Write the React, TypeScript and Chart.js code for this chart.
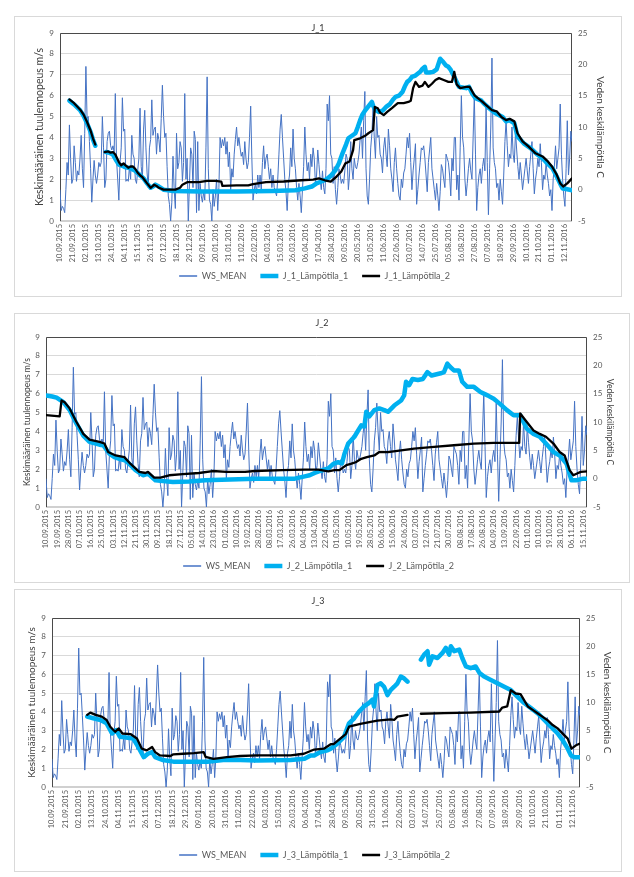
import { useEffect, useRef } from "react";
import { Chart, registerables } from "chart.js";

Chart.register(...registerables);

const FONT = "Lato, 'Liberation Sans', sans-serif";

// Daily mean wind speed (m/s), day 0 = 10.09.2015
const WS_MEAN: number[] = [
  1.5, 0.5, 0.7, 0.6, 0.4, 1.5, 2.8, 2.2, 4.6, 3.0,
  1.8, 2.0, 3.6, 2.8, 1.9, 2.4, 2.2, 3.0, 4.1, 2.5,
  1.6, 4.2, 7.4, 4.9, 5.0, 3.8, 2.5, 0.9, 2.0, 2.9,
  2.2, 1.8, 2.2, 2.8, 2.6, 2.8, 5.0, 3.5, 1.6, 2.0,
  3.8, 4.2, 4.3, 3.6, 3.4, 3.6, 3.3, 6.1, 3.0, 2.0,
  1.0, 2.8, 3.5, 5.9, 4.3, 4.4, 1.9, 2.0, 1.9, 2.6,
  2.0, 4.1, 3.2, 3.0, 2.0, 1.8, 2.4, 3.0, 5.4, 2.6,
  2.0, 4.4, 5.3, 3.5, 2.3, 1.6, 3.5, 3.9, 5.8, 4.1,
  4.4, 4.5, 3.2, 4.2, 3.9, 3.3, 4.9, 6.5, 5.0, 4.0,
  4.2, 2.6, 1.2, 0.8, 0.0, 0.9, 3.1, 1.5, 0.6, 4.2,
  2.5, 2.8, 3.8, 3.5, 1.9, 2.8, 6.1, 2.0, 3.0, 0.0,
  1.8, 3.5, 3.2, 1.6, 4.3, 3.9, 0.4, 3.8, 0.5, 1.8,
  1.2, 0.9, 1.4, 1.0, 3.5, 6.9, 2.5, 1.0, 0.8, 0.0,
  1.5, 0.7, 1.2, 2.0, 0.5, 1.6, 4.0, 3.5, 3.9, 3.6,
  4.0, 3.2, 3.8, 2.6, 3.3, 1.5, 2.5, 2.1, 3.2, 3.9,
  4.5, 3.6, 4.0, 3.5, 3.1, 3.3, 2.7, 3.8, 3.0, 2.5,
  2.8, 4.0, 5.5, 3.0, 1.0, 1.5, 1.8, 1.3, 2.2, 1.6,
  2.2, 1.5, 2.8, 3.6, 2.5, 3.0, 3.2, 2.6, 2.0, 2.5,
  1.6, 2.2, 1.6, 1.4, 1.2, 2.0, 3.2, 4.4, 5.1, 4.0,
  3.0, 2.0, 1.4, 0.5, 1.8, 2.2, 3.5, 2.6, 4.4, 3.0,
  2.5, 1.6, 1.0, 1.8, 1.2, 0.4, 1.5, 2.6, 4.5, 3.2,
  2.4, 2.8, 2.0, 3.2, 2.6, 3.5, 3.0, 1.8, 2.2, 3.4,
  2.7, 2.0, 1.5, 2.4, 1.6, 1.3, 2.5, 5.6, 4.8, 6.0,
  3.2, 3.0, 1.8, 2.6, 1.5, 0.8, 1.6, 2.5, 2.2, 1.8,
  2.0, 1.8, 2.4, 3.2, 3.0, 1.5, 2.2, 3.8, 2.5, 2.0,
  3.0, 2.6, 2.5, 2.8, 3.2, 3.9, 4.5, 3.0, 4.8, 6.2,
  2.5, 1.2, 0.8, 2.0, 3.5, 4.2, 5.5, 4.0, 3.0, 5.0,
  4.0, 4.1, 3.2, 3.0, 2.3, 3.5, 4.0, 3.2, 2.6, 4.4,
  3.6, 2.5, 2.0, 1.4, 2.8, 3.5, 2.5, 1.8, 1.2, 1.0,
  2.0, 1.6, 2.3, 2.5, 3.2, 4.0, 3.5, 4.2, 2.8, 1.5,
  2.4, 3.0, 3.7, 0.8, 1.5, 2.2, 2.8, 3.5, 3.4, 3.6,
  3.0, 2.2, 1.4, 2.8, 3.4, 4.0, 2.5, 2.0, 1.5, 1.0,
  1.8, 1.2, 0.5, 1.4, 2.7, 2.5, 2.0, 1.6, 3.2, 3.0,
  2.8, 2.2, 1.2, 3.0, 2.4, 4.0, 4.0, 1.5, 2.2, 1.0,
  3.5, 6.0, 4.0, 3.5, 2.0, 1.2, 1.8, 2.5, 3.0, 2.4,
  2.0, 4.0, 6.0, 3.2, 0.5, 1.6, 2.2, 2.5, 1.8, 2.6,
  3.0, 2.4, 5.5, 2.8, 0.3, 2.5, 4.5, 7.8, 3.5, 2.8,
  2.5, 1.6, 1.8, 1.0, 2.0, 1.4, 0.8, 2.2, 3.8, 4.8,
  3.6, 2.6, 3.2, 3.0, 4.5, 3.2, 2.8, 4.3, 3.4, 2.6,
  2.0, 2.8, 2.2, 1.5, 2.0, 2.5, 3.0, 2.4, 1.8, 2.6,
  3.2, 3.8, 2.5, 1.3, 2.0, 2.4, 3.0, 2.6, 3.7, 2.8,
  1.5, 2.2, 2.0, 2.8, 2.2, 1.8, 1.2, 1.5, 0.5, 2.0,
  2.6, 3.6, 2.5, 3.0, 3.5, 5.6, 3.2, 2.0, 1.2, 0.7,
  2.5, 4.8, 2.2, 3.0, 4.3, 3.8,
];

const TICKS_11: string[] = [
  "10.09.2015", "21.09.2015", "02.10.2015", "13.10.2015", "24.10.2015", "04.11.2015",
  "15.11.2015", "26.11.2015", "07.12.2015", "18.12.2015", "29.12.2015", "09.01.2016",
  "20.01.2016", "31.01.2016", "11.02.2016", "22.02.2016", "04.03.2016", "15.03.2016",
  "26.03.2016", "06.04.2016", "17.04.2016", "28.04.2016", "09.05.2016", "20.05.2016",
  "31.05.2016", "11.06.2016", "22.06.2016", "03.07.2016", "14.07.2016", "25.07.2016",
  "05.08.2016", "16.08.2016", "27.08.2016", "07.09.2016", "18.09.2016", "29.09.2016",
  "10.10.2016", "21.10.2016", "01.11.2016", "12.11.2016",
];

const TICKS_9: string[] = [
  "10.09.2015", "19.09.2015", "28.09.2015", "07.10.2015", "16.10.2015", "25.10.2015",
  "03.11.2015", "12.11.2015", "21.11.2015", "30.11.2015", "09.12.2015", "18.12.2015",
  "27.12.2015", "05.01.2016", "14.01.2016", "23.01.2016", "01.02.2016", "10.02.2016",
  "19.02.2016", "28.02.2016", "08.03.2016", "17.03.2016", "26.03.2016", "04.04.2016",
  "13.04.2016", "22.04.2016", "01.05.2016", "10.05.2016", "19.05.2016", "28.05.2016",
  "06.06.2016", "15.06.2016", "24.06.2016", "03.07.2016", "12.07.2016", "21.07.2016",
  "30.07.2016", "08.08.2016", "17.08.2016", "26.08.2016", "04.09.2016", "13.09.2016",
  "22.09.2016", "01.10.2016", "10.10.2016", "19.10.2016", "28.10.2016", "06.11.2016",
  "15.11.2016",
];

type Pt = [number, number | null];

// Water temperature series: [day index, °C]; null = gap
const J1_T1: Pt[] = [
  [8, 14.2], [12, 13.6], [17, 12.7], [20, 11.8], [23, 10.6], [26, 9.2], [28, 8.0], [30, 7.0], [30.5, null],
  [39, 6.0], [42, 5.9], [45, 5.6], [48, 4.6], [50, 4.0], [53, 3.8], [55, 3.6], [58, 3.5], [61, 3.3],
  [64, 3.0], [68, 2.3], [71, 1.8], [74, 1.0], [77, 0.3], [79, 0.5], [81, 0.8], [84, 0.5], [88, 0.0],
  [92, -0.1], [96, -0.2], [120, -0.3], [150, -0.3], [180, -0.2], [200, -0.1], [208, 0.2], [214, 0.5],
  [218, 1.0], [222, 1.3], [226, 1.6], [230, 2.2], [234, 3.1], [237, 4.2], [240, 5.8], [243, 7.2],
  [245, 8.2], [248, 8.6], [251, 9.0], [253, 10.0], [255, 11.1], [257, 12.0], [259.5, 12.7], [262, 13.3],
  [265, 14.0], [266, 13.4], [268, 12.7], [271, 12.4], [274, 12.6], [277, 13.2], [280, 13.6], [283, 14.4],
  [285, 14.8], [288, 15.0], [291, 15.6], [293, 16.5], [295, 17.2], [297, 17.5], [299, 18.0], [302, 18.2],
  [306, 18.8], [308, 19.3], [310, 19.6], [311, 18.7], [314, 18.7], [317, 18.8], [320, 19.2], [323, 20.9],
  [325, 20.5], [328, 19.8], [330, 19.6], [332, 19.1], [335, 18.0], [339, 16.4], [342, 16.3], [345, 16.2],
  [347.5, 16.4], [350, 15.4], [353, 14.6], [358, 14.2], [361, 13.6], [364.6, 13.0], [370, 12.2],
  [376, 11.6], [379, 10.9], [381.6, 11.1], [386, 10.6], [388.7, 8.5], [394, 7.4], [400, 6.6], [405, 5.7],
  [410, 5.0], [414, 4.2], [418.5, 3.4], [422, 2.1], [425.6, 0.7], [427, 0.2], [430, 0.1], [435, -0.1],
];

const J1_T2: Pt[] = [
  [8, 14.4], [12, 13.8], [17, 12.8], [20, 12.0], [23, 10.8], [26, 9.4], [28, 8.2], [30, 7.2], [30.5, null],
  [38, 6.0], [41, 6.1], [43, 5.9], [45, 6.0], [47, 5.6], [50, 4.4], [52, 3.9], [54, 4.2], [55, 4.0],
  [58, 3.5], [60, 3.7], [62, 3.7], [64, 3.3], [66, 2.7], [68, 2.3], [70, 2.0], [72, 1.5], [74, 1.0],
  [77, 0.3], [79, 0.6], [80, 0.8], [82, 0.6], [84, 0.3], [88, 0.0], [92, 0.0], [98, 0.0], [102, 0.3],
  [104, 0.8], [108, 1.2], [112, 1.2], [118, 1.2], [125, 1.4], [132, 1.4], [137, 1.3], [138, 0.6],
  [150, 0.7], [160, 0.7], [164, 0.9], [175, 1.2], [190, 1.3], [205, 1.5], [215, 1.6], [220, 1.8],
  [225, 1.5], [230, 1.3], [235, 2.1], [239, 2.9], [242.5, 4.2], [246, 4.5], [249, 6.3], [250, 7.9],
  [255, 8.2], [260, 8.7], [262, 9.0], [266, 9.5], [267.5, 13.2], [270, 13.0], [272, 12.3], [275, 11.9],
  [278, 12.4], [282, 13.0], [287, 13.8], [292, 13.8], [296, 14.0], [298, 14.2], [300, 16.2], [302, 17.2],
  [305, 16.4], [308, 16.6], [310, 17.2], [313, 16.4], [316, 16.9], [319, 17.5], [322, 17.8], [326, 17.5],
  [330, 17.2], [333, 17.2], [335, 18.8], [337, 16.8], [340, 16.2], [345, 16.4], [348, 16.4], [352, 15.1],
  [355, 14.6], [359, 14.0], [362, 13.5], [367, 12.7], [371, 12.5], [375, 11.6], [379, 11.1], [382, 11.3],
  [386, 10.9], [388.7, 9.0], [393, 7.7], [398, 6.9], [404, 5.8], [410, 5.3], [414, 4.6], [418, 3.7],
  [422, 2.4], [425, 1.0], [427.5, 0.5], [431, 1.0], [434, 1.6], [435, 1.8],
];

const J2_T1: Pt[] = [
  [0, 14.7], [5, 14.5], [8.5, 14.3], [14, 13.5], [19, 12.1], [24.5, 9.7], [30, 7.6], [35, 6.5], [40, 6.2],
  [43, 6.0], [46, 5.9], [51, 4.4], [55, 3.8], [59, 3.5], [64, 3.2], [68, 2.4], [72, 1.5], [78, 0.6],
  [82, 0.9], [88, -0.3], [102, -0.6], [115, -0.5], [128, -0.3], [141, -0.2], [155, -0.1], [168, 0.0],
  [200, 0.0], [208, 0.4], [212, 0.6], [216, 1.0], [221, 1.4], [227, 1.8], [231, 2.6], [235, 2.9],
  [238, 2.7], [240, 4.4], [243, 6.2], [248, 7.4], [251, 8.5], [253.5, 9.4], [256, 9.2], [257.5, 11.8],
  [260, 11.0], [264, 12.1], [268, 12.4], [272, 12.1], [275, 11.8], [280, 12.9], [285.5, 13.8], [288, 14.7],
  [289.5, 17.1], [292, 16.5], [294.7, 17.6], [299, 17.4], [303, 17.6], [306.7, 18.8], [310, 18.2],
  [317.4, 18.6], [320, 18.8], [322.7, 20.3], [325, 19.7], [328, 19.1], [332, 19.1], [334.7, 17.1],
  [338.7, 16.2], [344, 16.2], [349.3, 15.3], [355, 14.7], [360, 14.1], [365, 13.2], [370.6, 12.1],
  [376, 11.2], [381.3, 11.2], [386.6, 8.8], [392, 7.9], [397, 7.4], [402, 6.2], [408, 4.7], [413, 4.1],
  [418.6, 2.6], [422.5, -0.3], [426, -0.3], [432, 0.0], [435, 0.0],
];

const J2_T2: Pt[] = [
  [0, 11.2], [11, 11.0], [12.5, 13.8], [15, 13.5], [19, 12.4], [24.5, 10.0], [30, 7.9], [35, 6.9],
  [43, 6.5], [47, 6.2], [50, 4.7], [56, 4.1], [63, 3.8], [68, 2.6], [75, 1.2], [80, 1.0], [82, 1.2],
  [87, 0.2], [92, 0.2], [99, 0.6], [110, 0.8], [123, 1.0], [134, 1.35], [145, 1.2], [160, 1.2],
  [168, 1.35], [190, 1.5], [208, 1.6], [219, 1.6], [227, 1.3], [232, 1.5], [236, 1.5], [241.5, 2.4],
  [245, 2.6], [249, 2.9], [253.5, 3.5], [258, 3.8], [264, 4.1], [268, 4.7], [275, 4.7], [285.5, 5.0],
  [296, 5.3], [312, 5.6], [328, 5.9], [344, 6.2], [360, 6.3], [380.5, 6.3], [381.3, 11.5], [386.6, 10.0],
  [392, 8.5], [397, 7.9], [402, 7.4], [408, 6.2], [413, 4.7], [417, 4.1], [421, 1.5], [424, 0.6],
  [427, 0.9], [430, 1.2], [435, 1.3],
];

const J3_T1: Pt[] = [
  [29, 7.5], [34, 7.2], [40, 6.9], [45, 6.3], [49.5, 4.5], [53, 5.1], [56, 3.9], [61, 3.8], [67, 3.6],
  [71, 2.1], [75.6, 0.3], [79, 0.9], [82.5, 1.2], [85, 0.3], [91, -0.2], [100, -0.5], [128, -0.5],
  [141, -0.2], [155, -0.2], [169, -0.3], [196.6, -0.2], [208, 0.0], [213, 0.6], [216, 0.6], [221, 1.2],
  [227, 1.5], [229.6, 1.8], [235, 2.7], [240.6, 3.9], [244.7, 6.3], [249, 7.2], [253, 8.4], [257, 9.3],
  [261, 9.9], [264, 10.5], [265.3, 9.3], [268, 13.1], [270.8, 13.4], [273.6, 12.8], [276.4, 11.3],
  [279, 12.2], [281.9, 12.8], [284.6, 13.4], [287.4, 14.6], [290, 14.3], [292.9, 13.7], [293.5, null],
  [303.9, 17.6], [306.6, 18.5], [309.4, 19.1], [310.7, 16.7], [313.5, 18.2], [317.6, 17.9], [321.7, 18.8],
  [324.5, 19.7], [327.2, 18.5], [328.6, 20.0], [331.4, 19.1], [335.5, 19.4], [338, 17.9], [341, 16.4],
  [345, 16.1], [349, 16.4], [352, 15.3], [356, 14.6], [361.6, 14.0], [367, 13.4], [372.6, 12.8],
  [378, 12.2], [383.6, 11.0], [389, 9.9], [394.6, 9.0], [400, 8.1], [405.6, 6.9], [411, 5.7],
  [416.6, 4.5], [420.7, 3.3], [424.9, 1.8], [427.6, 0.6], [430.4, 0.3], [435, 0.3],
];

const J3_T2: Pt[] = [
  [29, 7.8], [31.6, 8.2], [36, 7.8], [41, 7.5], [45, 6.9], [48, 5.7], [52, 4.8], [55, 5.4], [58, 4.5],
  [64.6, 4.4], [70, 3.6], [74, 1.8], [78, 1.5], [82.5, 2.1], [85, 1.2], [89, 0.6], [97.6, 0.5],
  [100, 0.8], [108, 0.9], [117, 1.0], [125, 1.2], [126.5, 0.35], [133, 0.0], [144, 0.3], [155, 0.5],
  [169, 0.6], [196.6, 0.6], [207.5, 0.9], [216, 1.65], [224, 1.8], [229.6, 2.6], [232, 2.6],
  [237.5, 3.6], [242, 4.4], [244.7, 5.7], [254, 6.2], [268, 6.8], [279, 7.0], [281.9, 6.9], [284.6, 7.5],
  [292.9, 7.8], [293.5, null], [303.9, 8.0], [323, 8.1], [345, 8.2], [368.5, 8.4], [371, 9.1],
  [375, 9.3], [378, 12.2], [382, 11.6], [386, 11.5], [392, 9.3], [396, 8.7], [400, 8.1], [404, 7.5],
  [408, 6.9], [412.5, 6.0], [416.6, 5.4], [422, 4.2], [424.9, 3.6], [428, 1.8], [431.7, 2.4], [435, 2.7],
];

type PanelCfg = {
  title: string;
  names: string[];
  t1: Pt[];
  t2: Pt[];
  ticks: string[];
  step: number;
  box: { l: number; t: number; r: number; b: number };
  plot: { l: number; t: number; r: number; b: number };
  titleY: number;
  legendY: number;
  leftTitleX: number;
  rightTitleX: number;
  leftTitleSize: number;
  rightTitleSize: number;
};

const PANELS: PanelCfg[] = [
  {
    title: "J_1",
    names: ["WS_MEAN", "J_1_Lämpötila_1", "J_1_Lämpötila_2"],
    t1: J1_T1, t2: J1_T2, ticks: TICKS_11, step: 11,
    box: { l: 14, t: 16, r: 622, b: 297 },
    plot: { l: 60, t: 33, r: 572, b: 221 },
    titleY: 28, legendY: 276, leftTitleX: 40, rightTitleX: 600,
    leftTitleSize: 10.5, rightTitleSize: 10,
  },
  {
    title: "J_2",
    names: ["WS_MEAN", "J_2_Lämpötila_1", "J_2_Lämpötila_2"],
    t1: J2_T1, t2: J2_T2, ticks: TICKS_9, step: 9,
    box: { l: 14, t: 313, r: 630, b: 583 },
    plot: { l: 46, t: 337, r: 587, b: 507 },
    titleY: 323, legendY: 566, leftTitleX: 27, rightTitleX: 610,
    leftTitleSize: 8.5, rightTitleSize: 8.5,
  },
  {
    title: "J_3",
    names: ["WS_MEAN", "J_3_Lämpötila_1", "J_3_Lämpötila_2"],
    t1: J3_T1, t2: J3_T2, ticks: TICKS_11, step: 11,
    box: { l: 14, t: 589, r: 622, b: 872 },
    plot: { l: 52, t: 618, r: 580, b: 787 },
    titleY: 601, legendY: 855, leftTitleX: 32, rightTitleX: 607,
    leftTitleSize: 10, rightTitleSize: 10,
  },
];

const COLORS = ["#4472C4", "#00B0F0", "#000000"];
const WIDTHS = [1, 4.5, 2.3];
const LEGEND_WIDTHS = [1.5, 4.5, 2.5];

const toXY = (a: Pt[]) => a.map(([x, y]) => ({ x, y }));

const framePlugin = {
  id: "frame",
  beforeDraw(chart: any) {
    const { ctx, width, height } = chart;
    ctx.save();
    ctx.fillStyle = "#ffffff";
    ctx.fillRect(0, 0, width, height);
    ctx.strokeStyle = "#D9D9D9";
    ctx.lineWidth = 1;
    ctx.strokeRect(0.5, 0.5, width - 1, height - 1);
    ctx.restore();
  },
  beforeDatasetsDraw(chart: any) {
    const { ctx, chartArea } = chart;
    const { left, top, right, bottom } = chartArea;
    ctx.save();
    ctx.strokeStyle = "#D0D0D0";
    ctx.lineWidth = 2;
    ctx.beginPath();
    ctx.moveTo(left, bottom);
    ctx.lineTo(right, bottom);
    ctx.stroke();
    ctx.strokeStyle = "#4a4a4a";
    ctx.lineWidth = 1;
    ctx.beginPath();
    ctx.moveTo(left + 0.5, bottom);
    ctx.lineTo(left + 0.5, top + 0.5);
    ctx.lineTo(right - 0.5, top + 0.5);
    ctx.lineTo(right - 0.5, bottom);
    ctx.stroke();
    ctx.restore();
  },
};

function Panel({ cfg }: { cfg: PanelCfg }) {
  const ref = useRef<HTMLCanvasElement | null>(null);
  const W = cfg.box.r - cfg.box.l;
  const H = cfg.box.b - cfg.box.t;

  useEffect(() => {
    if (!ref.current) return;
    const maxDay = WS_MEAN.length - 1;
    const titleFont = 9;
    const titleLH = titleFont * 1.2;
    const titleTop = cfg.titleY - cfg.box.t - titleLH / 2;
    const titleBottom = cfg.plot.t - cfg.box.t - titleLH - titleTop;
    const legFont = 9;
    const legPad = 7;
    const legTop = cfg.legendY - legPad - legFont / 2;
    const xAxisH = legTop - cfg.plot.b;
    const legH = legFont + legPad + 10;
    const padBottom = cfg.box.b - legTop - legH;
    const leftW = cfg.plot.l - cfg.box.l;
    const rightW = cfg.box.r - cfg.plot.r;
    const lLH = cfg.leftTitleSize * 1.2;
    const rLH = cfg.rightTitleSize * 1.2;

    const chart = new Chart(ref.current, {
      type: "line",
      data: {
        datasets: [
          {
            label: cfg.names[0],
            data: WS_MEAN.map((v, i) => ({ x: i, y: v })),
            borderColor: COLORS[0],
            backgroundColor: COLORS[0],
            borderWidth: WIDTHS[0],
            pointRadius: 0,
            tension: 0,
            yAxisID: "y",
            order: 3,
          },
          {
            label: cfg.names[1],
            data: toXY(cfg.t1),
            borderColor: COLORS[1],
            backgroundColor: COLORS[1],
            borderWidth: WIDTHS[1],
            borderJoinStyle: "round",
            borderCapStyle: "round",
            pointRadius: 0,
            tension: 0,
            spanGaps: false,
            yAxisID: "y1",
            order: 2,
          },
          {
            label: cfg.names[2],
            data: toXY(cfg.t2),
            borderColor: COLORS[2],
            backgroundColor: COLORS[2],
            borderWidth: WIDTHS[2],
            borderJoinStyle: "round",
            borderCapStyle: "round",
            pointRadius: 0,
            tension: 0,
            spanGaps: false,
            yAxisID: "y1",
            order: 1,
          },
        ] as any,
      },
      options: {
        animation: false,
        responsive: false,
        maintainAspectRatio: false,
        devicePixelRatio: 1,
        events: [],
        layout: { padding: { left: 0, right: 0, top: 0, bottom: padBottom } },
        plugins: {
          title: {
            display: true,
            text: cfg.title,
            color: "#333333",
            font: { family: FONT, size: titleFont, weight: "normal" },
            padding: { top: titleTop, bottom: titleBottom },
          },
          legend: {
            display: true,
            position: "bottom",
            labels: {
              font: { family: FONT, size: legFont },
              color: "#595959",
              padding: legPad,
              usePointStyle: true,
              pointStyleWidth: 18,
              generateLabels: (ch: any) =>
                ch.data.datasets.map((ds: any, i: number) => ({
                  text: ds.label + "   ",
                  datasetIndex: i,
                  fillStyle: COLORS[i],
                  strokeStyle: COLORS[i],
                  lineWidth: LEGEND_WIDTHS[i],
                  pointStyle: "line",
                  hidden: false,
                  fontColor: "#595959",
                })),
            },
          },
          tooltip: { enabled: false },
        },
        scales: {
          x: {
            type: "linear",
            min: 0,
            max: maxDay,
            grid: { display: false, drawTicks: false },
            border: { display: false },
            ticks: {
              autoSkip: false,
              maxRotation: 90,
              minRotation: 90,
              padding: 3,
              color: "#595959",
              font: { family: FONT, size: 7.5 },
              callback: (_v: any, i: number) => cfg.ticks[i],
            },
            afterBuildTicks: (scale: any) => {
              scale.ticks = cfg.ticks.map((_, i) => ({ value: i * cfg.step }));
            },
            afterFit: (scale: any) => {
              scale.height = xAxisH;
            },
          },
          y: {
            position: "left",
            min: 0,
            max: 9,
            ticks: {
              stepSize: 1,
              padding: 6,
              color: "#595959",
              font: { family: FONT, size: 8 },
            },
            grid: { color: "#D9D9D9", lineWidth: 1, drawTicks: false },
            border: { display: false },
            title: {
              display: true,
              text: "Keskimääräinen tuulennopeus m/s",
              color: "#404040",
              font: { family: FONT, size: cfg.leftTitleSize },
              padding: { top: cfg.leftTitleX - cfg.box.l - lLH / 2, bottom: 0 },
            },
            afterFit: (scale: any) => {
              scale.width = leftW;
            },
          },
          y1: {
            position: "right",
            min: -5,
            max: 25,
            ticks: {
              stepSize: 5,
              padding: 6,
              color: "#595959",
              font: { family: FONT, size: 8 },
            },
            grid: { drawOnChartArea: false, drawTicks: false },
            border: { display: false },
            title: {
              display: true,
              text: "Veden keskilämpötila C",
              color: "#404040",
              font: { family: FONT, size: cfg.rightTitleSize },
              padding: { top: cfg.box.r - cfg.rightTitleX - rLH / 2, bottom: 0 },
            },
            afterFit: (scale: any) => {
              scale.width = rightW;
            },
          },
        },
      } as any,
      plugins: [framePlugin],
    });
    return () => chart.destroy();
  }, [cfg]);

  return (
    <canvas
      ref={ref}
      width={W}
      height={H}
      style={{ position: "absolute", left: cfg.box.l, top: cfg.box.t, width: W, height: H }}
    />
  );
}

export default function App() {
  return (
    <div style={{ position: "absolute", left: 0, top: 0, width: 634, height: 877, background: "#ffffff" }}>
      {PANELS.map((p) => (
        <Panel key={p.title} cfg={p} />
      ))}
    </div>
  );
}
